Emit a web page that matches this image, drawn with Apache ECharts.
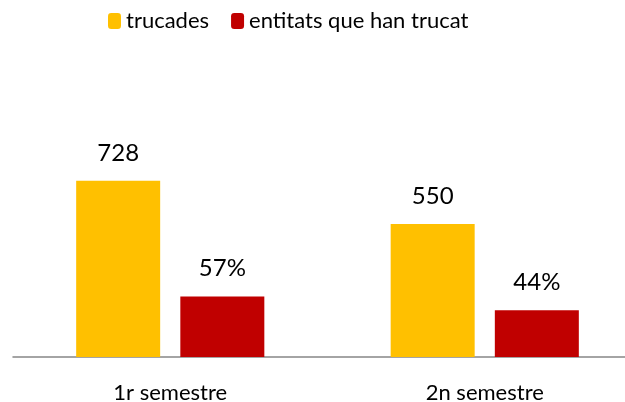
<!DOCTYPE html>
<html>
<head>
<meta charset="utf-8">
<script src="https://cdn.jsdelivr.net/npm/echarts@6/dist/echarts.min.js"></script>
<style>
  html, body { margin: 0; padding: 0; background: #fff; }
  #chart { width: 625px; height: 402px; }
</style>
</head>
<body>
<div id="chart"></div>
<script>
// data
var categories = ['1r semestre', '2n semestre'];
var seriesNames = ['trucades', 'entitats que han trucat'];
var calls = [728, 550];
var entitiesPct = [57, 44];

var chart = echarts.init(document.getElementById('chart'));
var font = 'Lato, "Open Sans", sans-serif';

chart.setOption({
    animation: false,
    textStyle: { fontFamily: font },
    legend: {
        left: 108,
        top: 10,
        padding: 0,
        itemWidth: 13,
        itemHeight: 16,
        itemGap: 22,
        textStyle: { fontSize: 22, color: '#000', fontFamily: font },
        data: seriesNames
    },
    // plot area runs off the right edge, as in the original crop
    grid: { left: 13, width: 629, top: 115, height: 242, outerBoundsMode: 'none', containLabel: false },
    xAxis: {
        type: 'category',
        data: categories,
        axisLine: { lineStyle: { color: '#868686', width: 1.5 } },
        axisTick: { show: false },
        axisLabel: { fontSize: 22, color: '#000', margin: 25, fontFamily: font }
    },
    yAxis: [
        { type: 'value', min: 0, max: 1000, show: false, splitLine: { show: false } },
        { type: 'value', min: 0, max: 228, show: false, splitLine: { show: false } }
    ],
    series: [
        {
            name: seriesNames[0],
            type: 'bar',
            yAxisIndex: 0,
            data: calls,
            barWidth: 84,
            barGap: '24%',
            itemStyle: { color: '#FFC000' },
            label: { show: true, position: 'top', distance: 16, fontSize: 24, color: '#000', fontFamily: font }
        },
        {
            name: seriesNames[1],
            type: 'bar',
            yAxisIndex: 1,
            data: entitiesPct,
            barWidth: 84,
            barGap: '24%',
            itemStyle: { color: '#C00000' },
            label: { show: true, position: 'top', distance: 16, fontSize: 24, color: '#000', fontFamily: font, formatter: '{c}%' }
        }
    ]
});
</script>
</body>
</html>
